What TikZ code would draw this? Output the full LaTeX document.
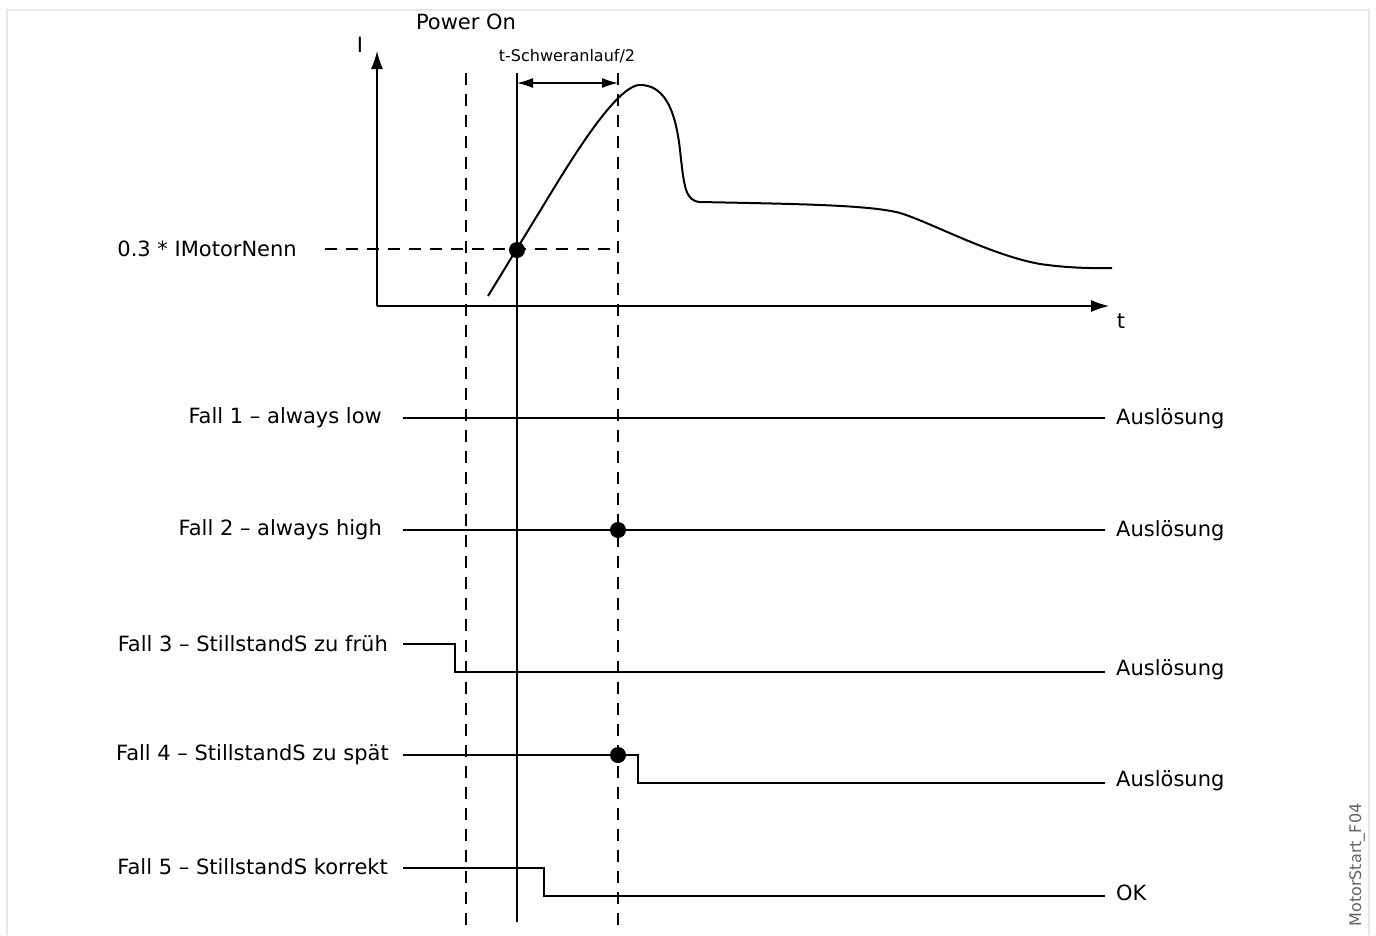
\documentclass[tikz,border=0pt]{standalone}
\usepackage{fontspec}
\setmainfont{DejaVu Sans}
\usetikzlibrary{arrows.meta,positioning,calc}
\definecolor{framegray}{RGB}{230, 230, 230}
\definecolor{notegray}{RGB}{100, 100, 100}

\tikzset{
    sig/.style={line width=1.3pt},
    guide/.style={dash pattern=on 12pt off 9pt, line width=2pt},
    curve/.style={line width=2pt, line join=round},
    dot/.style={circle, fill=black, inner sep=0pt, minimum size=16pt},
    txt/.style={inner sep=0pt, font=\fontsize{21}{25}\selectfont},
    small/.style={inner sep=0pt, font=\fontsize{16}{19}\selectfont},
}

\begin{document}
\begin{tikzpicture}[x=1pt, y=-1pt]
    \useasboundingbox (0,0) rectangle (1376,935);
    \draw[framegray, line width=2pt] (7,935) -- (7,10) -- (1369,10) -- (1369,935);
    \node[small, text=notegray, rotate=90] (figid) at (1357,865) {MotorStart\_F04};

    % axes
    \coordinate (origin) at (377,306);
    \coordinate (ytip) at (377,51);
    \coordinate (xtip) at (1109,306);
    \draw[sig, -{Latex[length=18pt, width=12pt]}] (origin) -- (ytip);
    \draw[sig, -{Latex[length=18pt, width=12pt]}] (origin) -- (xtip);
    \node[txt] (ilabel) at (360,45) {I};
    \node[txt] (tlabel) at (1121,321) {t};

    % time markers
    \coordinate (pontop) at (466,73);
    \coordinate (ponbot) at (466,925);
    \coordinate (tstop) at (517,73);
    \coordinate (tsbot) at (517,922);
    \coordinate (tetop) at (618,73);
    \coordinate (tebot) at (618,925);
    \draw[guide] (pontop) -- (ponbot);
    \draw[sig, line width=1.2pt] (tstop) -- (tsbot);
    \draw[guide] (tetop) -- (tebot);
    \node[txt] (poweron) at (466,22) {Power On};
    \draw[sig, {Latex[length=16pt, width=10pt]}-{Latex[length=16pt, width=10pt]}] (517,83) -- (618,83);
    \node[small] (tschwer) at (567,56) {t-Schweranlauf/2};

    % current curve
    \draw[curve] (488,296) -- (540,211)
        .. controls (565,170) and (615,85) .. (640,85)
        .. controls (662,85) and (675,105) .. (680,150)
        .. controls (684,186) and (685,201) .. (700,202)
        .. controls (800,204) and (870,205) .. (900,213)
        .. controls (930,222) and (990,255) .. (1040,264)
        .. controls (1075,269) and (1100,268) .. (1112,268);

    % threshold
    \node[txt, anchor=east] (thresh) at (297,249) {0.3 * IMotorNenn};
    \coordinate (threshend) at (615,249);
    \draw[guide, line width=1.6pt] ([xshift=28pt]thresh.east) -- (threshend);
    \node[dot] (cross) at (517,250) {};

    % cases
    \node[txt, anchor=east] (fall1) at (382,418) {Fall 1 – always low};
    \node[txt, anchor=east] (fall2) at (382,530) {Fall 2 – always high};
    \node[txt, anchor=east] (fall3) at (388,644) {Fall 3 – StillstandS zu früh};
    \node[txt, anchor=east] (fall4) at (389,755) {Fall 4 – StillstandS zu spät};
    \node[txt, anchor=east] (fall5) at (388,867) {Fall 5 – StillstandS korrekt};

    \node[txt, anchor=west] (res1) at (1116,419) {Auslösung};
    \node[txt, anchor=west] (res2) at (1116,531) {Auslösung};
    \node[txt, anchor=west] (res3) at (1116,670) {Auslösung};
    \node[txt, anchor=west] (res4) at (1116,781) {Auslösung};
    \node[txt, anchor=west] (res5) at (1116,893) {OK};

    \draw[sig] (403,418) -- ([xshift=-11pt]res1.west |- 0,418);
    \draw[sig] (403,530) -- ([xshift=-11pt]res2.west |- 0,530);
    \draw[sig] (403,644) -| (455,672) -- ([xshift=-11pt]res3.west |- 0,672);
    \draw[sig] (403,755) -| (638,783) -- ([xshift=-11pt]res4.west |- 0,783);
    \draw[sig] (403,868) -| (544,896) -- ([xshift=-11pt]res5.west |- 0,896);

    \node[dot] (hit2) at (618,530) {};
    \node[dot] (hit4) at (618,755) {};
\end{tikzpicture}
\end{document}
